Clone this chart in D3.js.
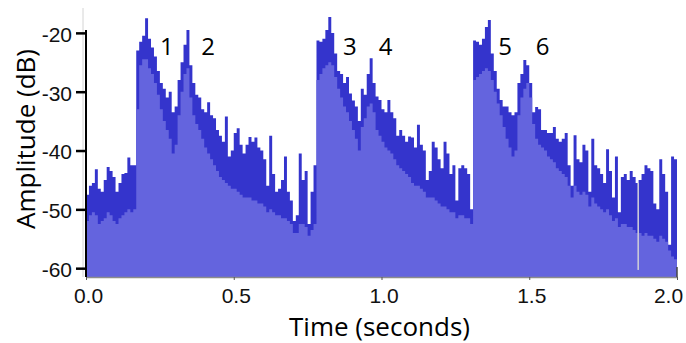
<!DOCTYPE html>
<html>
<head>
<meta charset="utf-8">
<script src="https://cdn.jsdelivr.net/npm/d3@7"></script>
<style>
  body { margin: 0; background: #fff; }
  svg { display: block; }
</style>
</head>
<body>
<svg id="chart" width="686" height="343"></svg>
<script>
// Amplitude envelope of a recording, one value per 10 ms bin.
const binSeconds = 0.01;

// Peak level per bin (dB)
const peakDb = [
  -47.5, -46, -45.5, -43.2, -46.5, -47, -45, -42.8, -43.5, -44.5, -47, -45.5, -44, -43.8, -41.2, -42.5, -42.5,
  -23, -21.5, -20.5, -17.5, -21, -22.5, -24, -26.5, -28.5, -29.5, -31,
  -30, -33.5, -32.5, -28, -25, -22, -19.5,
  -25.5, -28.5, -30.5, -31, -33, -33.5, -31.8, -34, -34.5, -36.5, -37.5, -38.5, -34.2, -41, -40, -37,
  -36.2, -39, -40.5, -39, -37.7, -38.5, -37.8, -39.5, -40, -41.5, -46, -37.5, -44, -47, -46.5, -45,
  -41, -47, -48.5, -52, -51, -40.5, -45, -43.5, -52.5, -47, -42.5,
  -21.3, -21.5, -21, -19.5, -17.3, -20, -23.5, -26.5, -27, -28.5, -27.5, -30.3, -31.5, -32.5, -35, -29.5,
  -30.5, -27, -24.3, -28.5, -30.8, -31.4,
  -33, -33.5, -31.4, -33.5, -34.5, -37.5, -36.5, -37.5, -38.5, -37.6, -37.8, -39.5, -35.6, -39, -40, -45,
  -43.5, -38.5, -39.5, -41.5, -43, -38.5, -40.5, -44, -42.5, -48.5, -43, -42.5, -43, -44, -50,
  -21.3, -21.5, -22, -21, -19, -17.8, -23.5, -26.5, -29.5, -31.4, -32.5, -32.5, -33.5, -34, -33.5, -28.5,
  -27, -24.6, -25.5, -28.5, -33.5, -32.6, -33, -36.5, -36.5, -37, -37, -36, -38, -38.5, -38, -37, -42.5,
  -46, -37.4,
  -41.5, -42, -39, -40, -47, -38, -42.5, -43, -44, -45.5, -39.8, -43.5, -48, -41, -50.5, -44.5, -44, -45,
  -43.5, -44.5, -45.5, -45, -44, -42.5, -43, -43.5, -49, -50, -41.5, -44, -47, -56, -41, -41.5
];

// RMS level per bin (dB)
const rmsDb = [
  -52, -51, -50.5, -51, -52.5, -52, -51.5, -50.5, -51, -52, -52.5, -51.5, -51, -50.5, -50, -50.5, -50,
  -33, -25.5, -24.5, -24.5, -26, -27, -28.5, -30.5, -33, -35, -36.5,
  -38, -40.5, -39, -34, -30, -27, -26,
  -31, -34, -35.5, -36.5, -38, -39.5, -40.5, -41.5, -42.5, -43.5, -44.5, -45, -45.5, -46, -46.5, -46.5,
  -47, -47.5, -48, -48, -48, -48.5, -48.5, -49, -49, -49.5, -50.5, -50, -50.5, -51, -51, -51.5,
  -51.5, -52, -52.5, -54, -54, -52.5, -52.5, -53, -54.5, -53.5, -52.5,
  -28, -27, -26, -25.5, -25, -25.5, -27.5, -29.5, -31, -32.5, -33.5, -35, -36.5, -38, -40, -36,
  -34.5, -32.5, -32, -33.5, -36.5, -37.5,
  -38.5, -39.5, -40, -40.5, -41.5, -42.5, -43, -43.5, -44, -44.5, -45.5, -46, -46, -46.5, -47, -48,
  -48, -48, -48.5, -49, -49.5, -49.5, -50, -50.5, -50.5, -51.5, -51, -51, -51.5, -51.5, -52.5,
  -28, -27.5, -27, -26.5, -26, -26.5, -28, -30, -32, -34, -36, -38, -39.5, -41, -40, -34,
  -31, -29.5, -28.5, -31, -35.5, -38, -39, -39.5, -40, -41, -41.5, -42, -43, -43.5, -44, -44.5, -46,
  -48, -46,
  -47, -47.5, -47, -47.5, -49.5, -48, -49, -49.5, -50, -50.5, -50, -51, -52, -51.5, -53, -52.5, -52.5, -53,
  -53, -53.5, -54, -54, -54.5, -54, -54.5, -54.5, -55, -55.5, -54.5, -55, -55.5, -57, -58, -58.5
];

// Brief dropouts where the signal falls to the noise floor (s)
const dropoutTimes = [1.866];

const xTickValues = [0, 0.5, 1.0, 1.5, 2.0];
const yTickValues = [-20, -30, -40, -50, -60];

// Numbered events marked above the envelope
const eventLabels = ["1", "2", "3", "4", "5", "6"];
const eventTimes = [0.274, 0.413, 0.893, 1.014, 1.418, 1.545];
const eventLevelDb = -23.7;

const floorDb = -61.5;

const svg = d3.select("#chart");

const x = d3.scaleLinear().domain([0, 2.0]).range([86, 677]);
const y = d3.scaleLinear().domain([floorDb, -17.3]).range([277, 17]);

function toSeries(values) {
  const pts = values.map((v, i) => ({ t: i * binSeconds, v }));
  pts.push({ t: values.length * binSeconds, v: values[values.length - 1] });
  return pts;
}

const area = d3.area()
  .x(d => x(d.t))
  .y0(y(floorDb))
  .y1(d => y(d.v))
  .curve(d3.curveStepAfter);

// faint frame edge at the left of the plot
svg.append("line")
  .attr("x1", 83).attr("x2", 83)
  .attr("y1", 8).attr("y2", 277)
  .attr("stroke", "#d4d4d4").attr("stroke-width", 1);

svg.append("path")
  .datum(toSeries(peakDb))
  .attr("d", area)
  .attr("fill", "#3434cc");

svg.append("path")
  .datum(toSeries(rmsDb))
  .attr("d", area)
  .attr("fill", "#6464de");

svg.selectAll("rect.dropout")
  .data(dropoutTimes)
  .join("rect")
  .attr("class", "dropout")
  .attr("x", d => x(d))
  .attr("width", 1.6)
  .attr("y", d => y(peakDb[Math.floor(d / binSeconds)]))
  .attr("height", d => y(-60.3) - y(peakDb[Math.floor(d / binSeconds)]))
  .attr("fill", "#c8c8d8");

// x axis
const xAxis = d3.axisBottom(x)
  .tickValues(xTickValues)
  .tickSize(3)
  .tickSizeOuter(0)
  .tickFormat(d3.format(".1f"));

const gx = svg.append("g")
  .attr("transform", `translate(0,${y(floorDb)})`)
  .call(xAxis);
gx.select(".domain").attr("stroke", "#8c8c8c").attr("stroke-width", 1.5);
gx.selectAll(".tick line").attr("stroke", "#555");
gx.selectAll(".tick text")
  .attr("font-family", "'Liberation Sans', Arial, sans-serif")
  .attr("font-size", 21)
  .attr("fill", "#111")
  .attr("y", 11)
  .attr("dx", (d, i) => i === xTickValues.length - 1 ? -9 : 2);

// short mark at the right end of the x axis
svg.append("line")
  .attr("x1", x(2.0)).attr("x2", x(2.0))
  .attr("y1", y(floorDb) - 10).attr("y2", y(floorDb))
  .attr("stroke", "#444").attr("stroke-width", 1.5);

// y axis
const yAxis = d3.axisLeft(y)
  .tickValues(yTickValues)
  .tickSize(10)
  .tickSizeOuter(0)
  .tickFormat(d => String(d));

const gy = svg.append("g")
  .attr("transform", `translate(${x(0)},0)`)
  .call(yAxis);
gy.select(".domain").remove();
gy.append("line")
  .attr("x1", 0).attr("x2", 0)
  .attr("y1", y(-19.5)).attr("y2", y(floorDb))
  .attr("stroke", "#000").attr("stroke-width", 2);
gy.selectAll(".tick line").attr("stroke", "#000").attr("stroke-width", 2.5);
gy.selectAll(".tick text")
  .attr("font-family", "'Liberation Sans', Arial, sans-serif")
  .attr("font-size", 21)
  .attr("fill", "#111")
  .attr("x", -14)
  .attr("dy", "0.4em");

// event numbers
svg.selectAll("text.event")
  .data(eventLabels)
  .join("text")
  .attr("class", "event")
  .attr("x", (d, i) => x(eventTimes[i]))
  .attr("y", y(eventLevelDb))
  .attr("text-anchor", "middle")
  .attr("font-family", "'Open Sans', sans-serif")
  .attr("font-size", 24)
  .attr("fill", "#000")
  .text(d => d);

// axis titles
svg.append("text")
  .attr("x", (x(0) + x(2.0)) / 2 - 2)
  .attr("y", 336)
  .attr("text-anchor", "middle")
  .attr("font-family", "'Open Sans', sans-serif")
  .attr("font-size", 26)
  .attr("fill", "#000")
  .text("Time (seconds)");

svg.append("text")
  .attr("transform", "translate(35,139) rotate(-90)")
  .attr("text-anchor", "middle")
  .attr("font-family", "'Open Sans', sans-serif")
  .attr("font-size", 26)
  .attr("fill", "#000")
  .text("Amplitude (dB)");
</script>
</body>
</html>
